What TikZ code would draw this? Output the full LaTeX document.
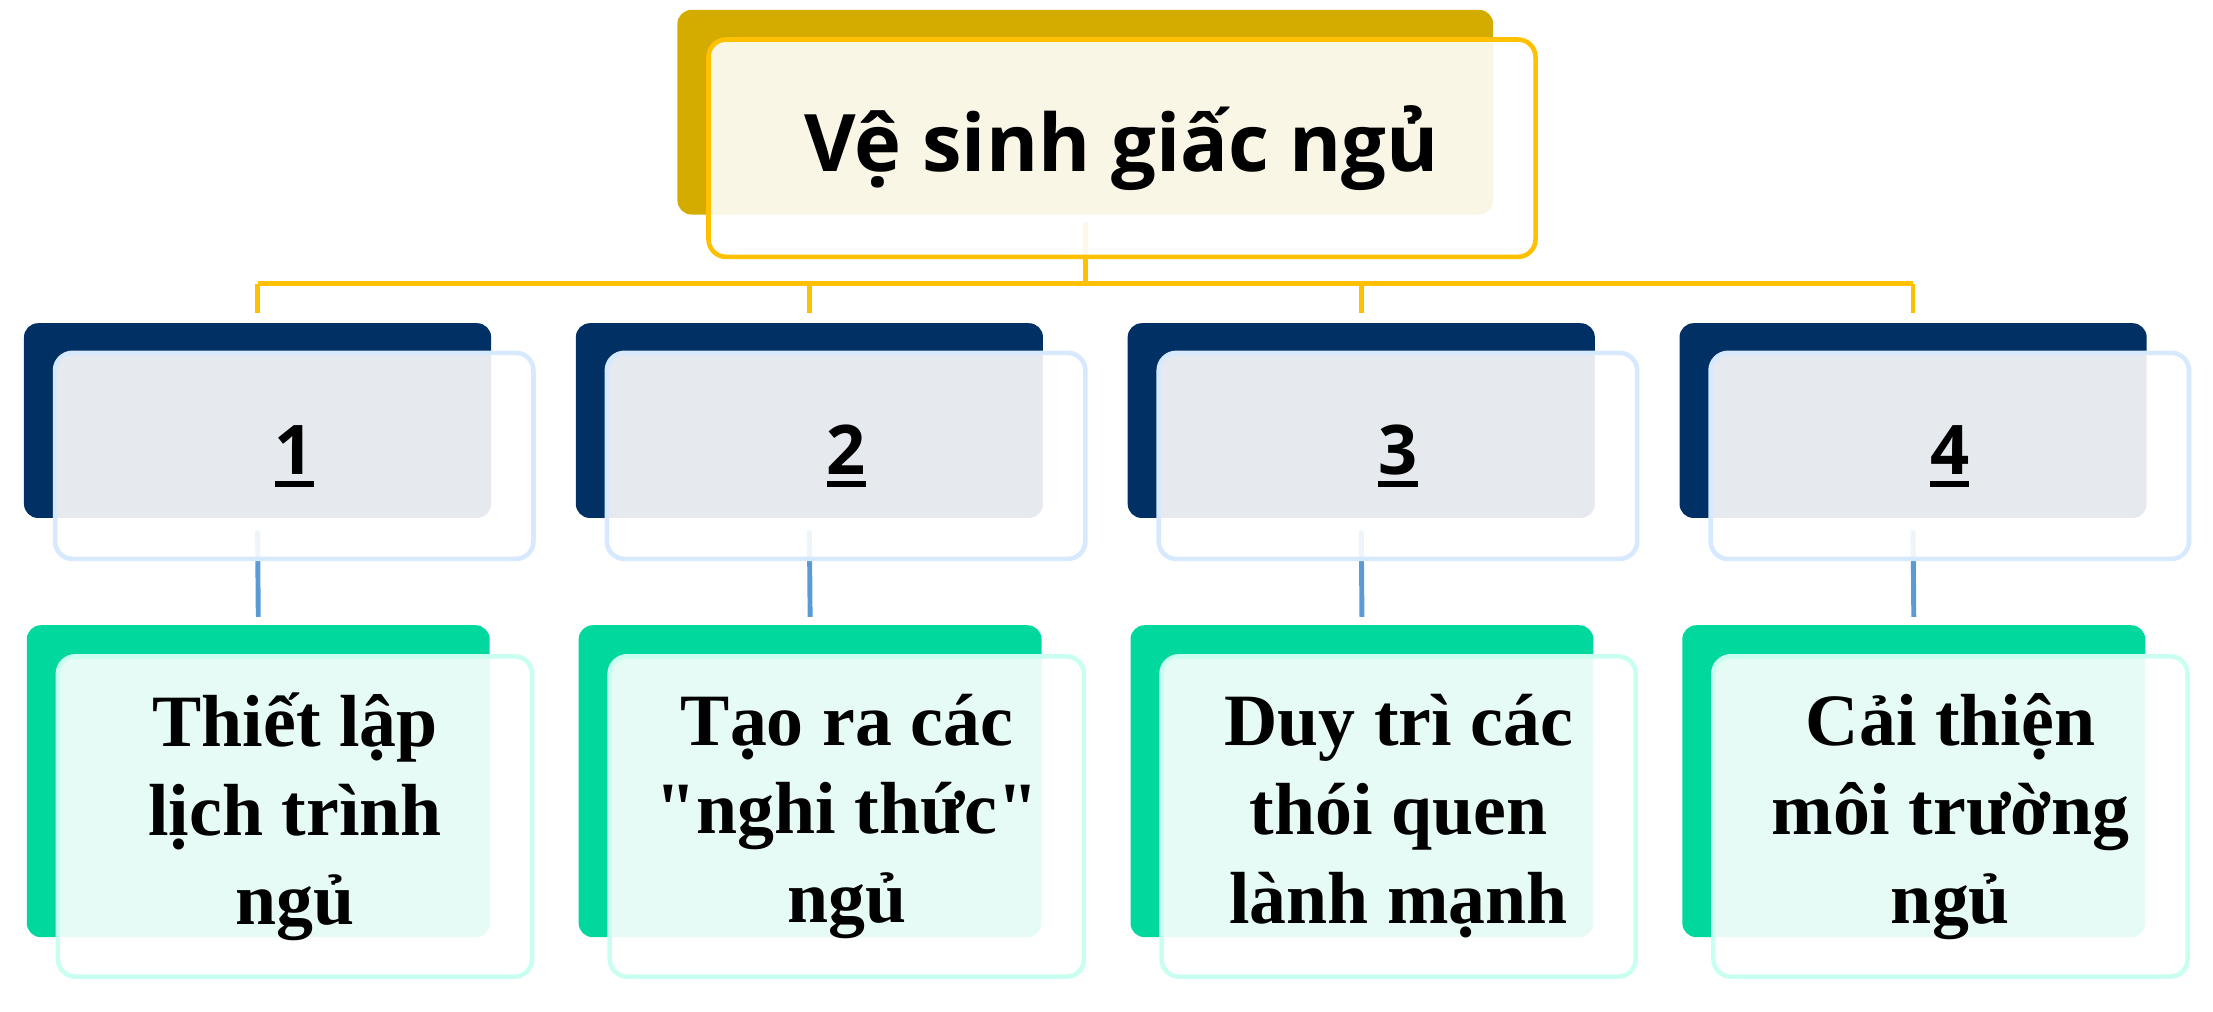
\documentclass[tikz,border=0pt]{standalone}
\usepackage{fontspec}
\newfontfamily\titlefont{Open Sans}
\newfontfamily\bodyfont{Liberation Serif}
\definecolor{gold}{HTML}{D4AC00}
\definecolor{yel}{HTML}{FFC000}
\definecolor{navy}{HTML}{003064}
\definecolor{lblue}{HTML}{D6E9FF}
\definecolor{mint}{HTML}{00D89E}
\definecolor{lmint}{HTML}{C9FFF1}
\definecolor{cblue}{HTML}{5B9BD5}
\def\u{0.014114cm}
\newcommand\ulnum[1]{\setbox0\hbox{#1}\usebox0\llap{\rule[-3.6pt]{\wd0}{1.6pt}}}
\begin{document}
\begin{tikzpicture}[x=0.014114cm,y=-0.014114cm,
  box/.style={rectangle, rounded corners=4pt, inner sep=0pt, outer sep=0pt},
  frontbox/.style={box, rounded corners=5pt, line width=1.3pt, fill=white, fill opacity=0.9, text opacity=1},
  tback/.style={box, fill=gold, minimum width=578*\u, minimum height=145*\u},
  tfront/.style={frontbox, draw=yel, minimum width=586*\u, minimum height=154*\u,
    font=\titlefont\bfseries\fontsize{22.6}{26}\selectfont},
  nback/.style={box, fill=navy, minimum width=331*\u, minimum height=138*\u},
  nfront/.style={frontbox, draw=lblue, minimum width=339*\u, minimum height=146*\u,
    font=\titlefont\bfseries\fontsize{19.5}{22}\selectfont},
  gback/.style={box, fill=mint, minimum width=328*\u, minimum height=221*\u},
  gfront/.style={frontbox, draw=lmint, minimum width=336*\u, minimum height=227*\u,
    align=center, font=\bodyfont\bfseries\fontsize{21}{25.3}\selectfont},
  yline/.style={draw=yel, line width=1.3pt},
  bline/.style={draw=cblue, line width=1.4pt}]
\useasboundingbox (0,0) rectangle (1568,717);
% top
\node[tback] (tb) at (769,79.5) {};
\coordinate (hub) at (769,201);
\draw[yline] ([yshift=-6*\u]tb.south) -- (hub);
\coordinate (d0) at (182.5,201);
\coordinate (d3) at (1355.5,201);
\draw[yline] (d0) -- (d3);
\node[tfront] (tf) at (795,105) {Vệ sinh giấc ngủ};
% columns
\foreach \i/\num/\txt in {0/1/{Thiết lập\\lịch trình\\ngủ},
                          1/2/{Tạo ra các\\"nghi thức"\\ngủ},
                          2/3/{Duy trì các\\thói quen\\lành mạnh},
                          3/4/{Cải thiện\\môi trường\\ngủ}}{
  \pgfmathsetmacro\cx{182.5+391*\i}
  \node[nback] (nb\i) at (\cx,298) {};
  \node[gback] (gb\i) at (\cx+0.5,553.5) {};
  \coordinate (dd\i) at (\cx,201);
  \draw[yline] (dd\i) -- ([yshift=7*\u]nb\i.north);
  \draw[bline] ([yshift=-9*\u]nb\i.south) -- ([yshift=6*\u]gb\i.north);
  \node[nfront] (n\i) at (\cx+26,323) {\ulnum{\num}};
  \node[gfront] (g\i) at (\cx+26.5,578.5) {\txt};
}
\end{tikzpicture}
\end{document}
